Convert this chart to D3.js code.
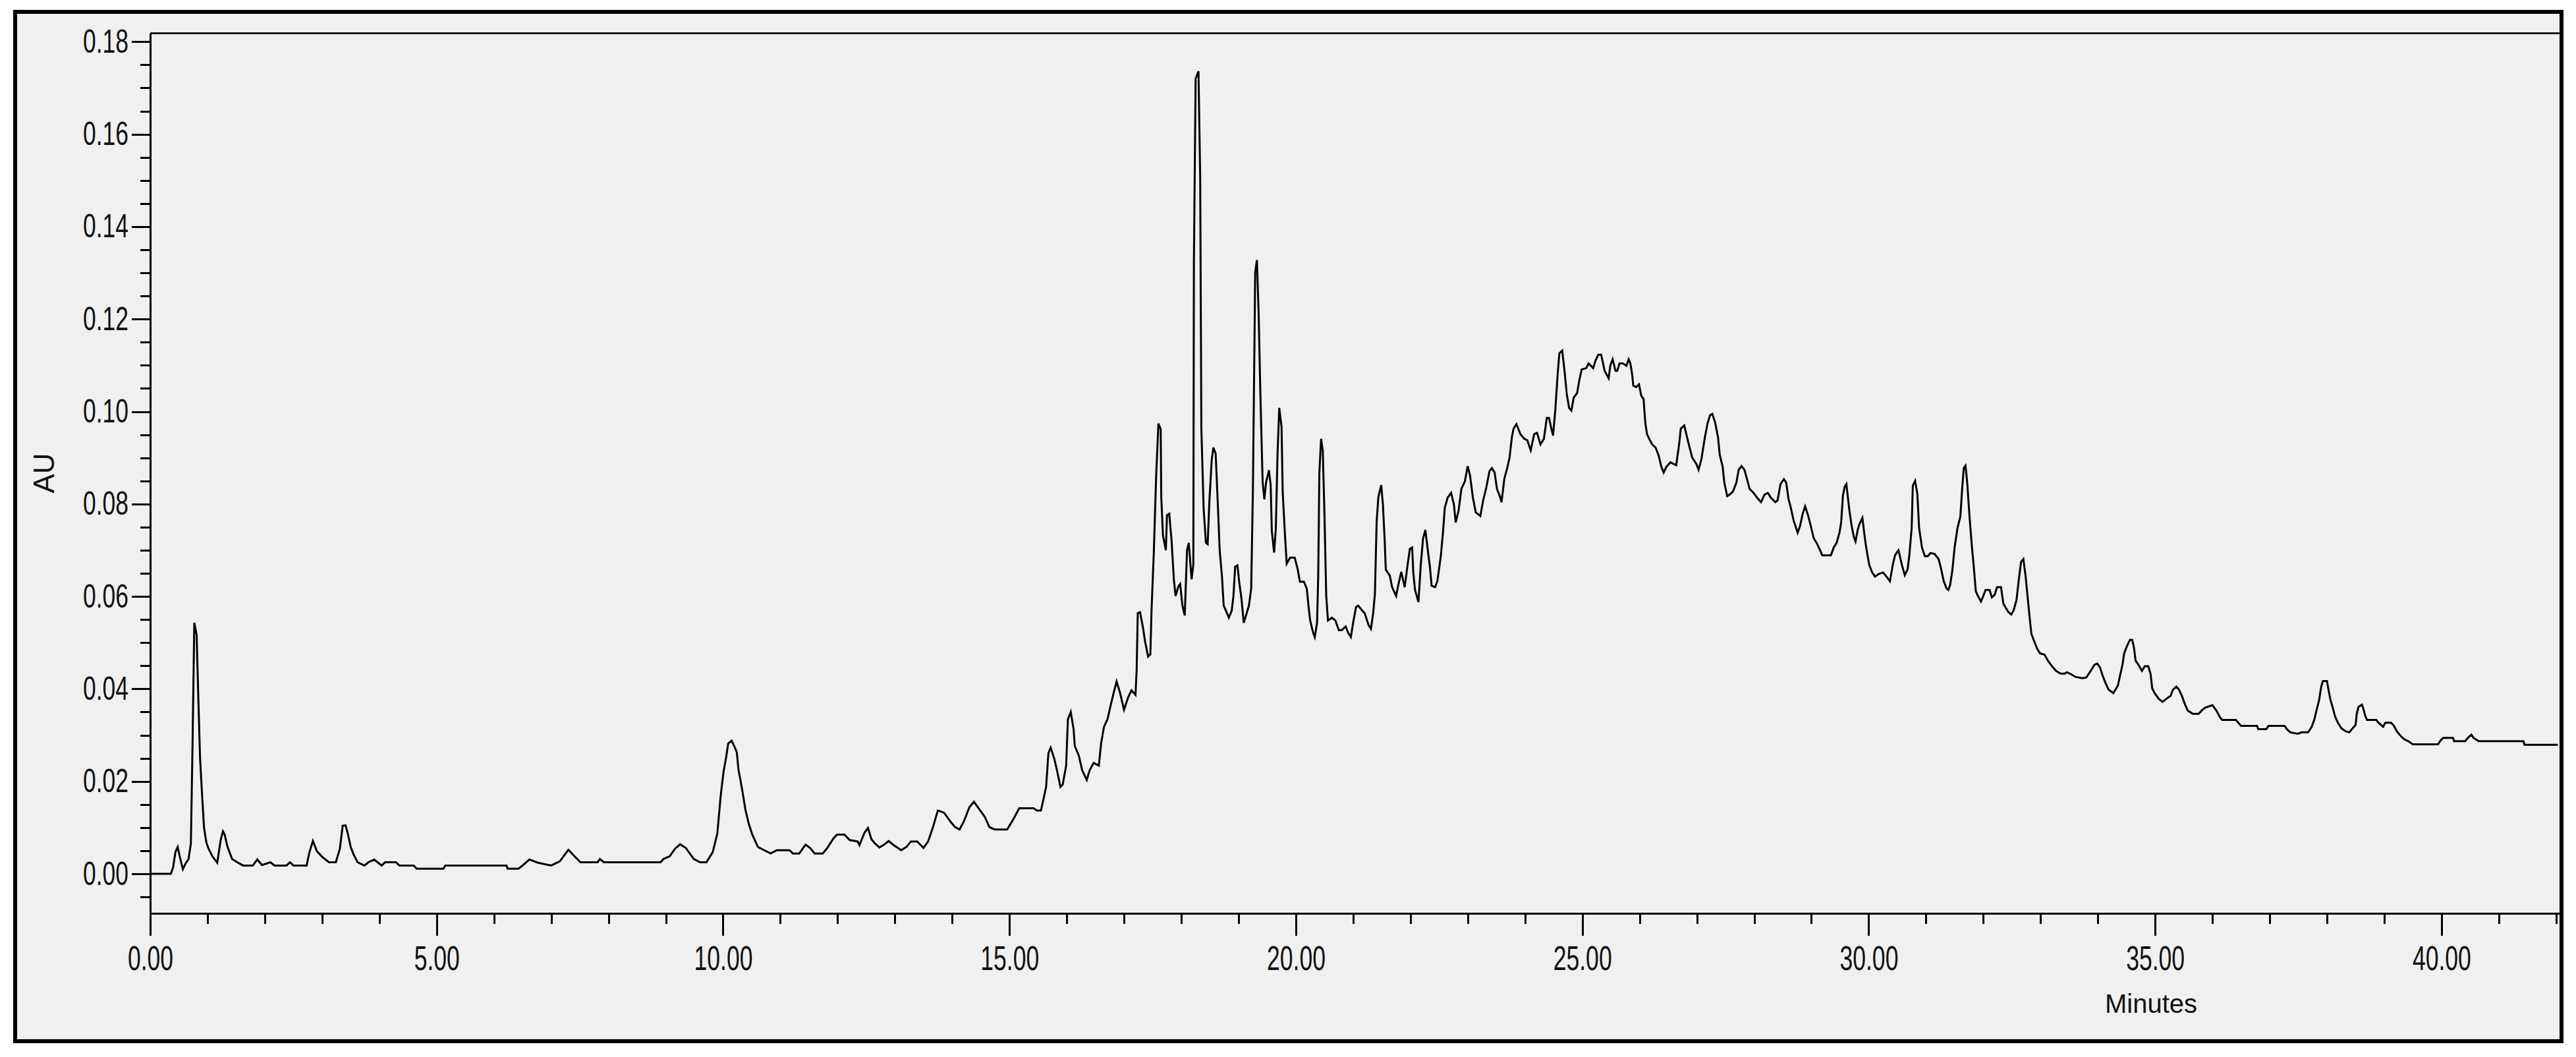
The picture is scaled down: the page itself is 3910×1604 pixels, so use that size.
<!DOCTYPE html>
<html>
<head>
<meta charset="utf-8">
<script src="https://cdn.jsdelivr.net/npm/d3@7"></script>
<style>
body { margin: 0; background: #fff; }
svg { display: block; }
</style>
</head>
<body>
<div id="chart"></div>
<script>
// retention time (min) and absorbance (AU)
var rtEarly = [0.00,0.36,0.40,0.44,0.48,0.52,0.57,0.62,0.67,0.71,0.74,0.77,0.81,0.84,0.87,0.905,0.94,0.98,1.02,1.09,1.17,1.23,1.27,1.30,1.35,1.43,1.52,1.62,1.79,1.87,1.95,2.10,2.17,2.38,2.44,2.50,2.73,2.78,2.84,2.91,3.00,3.12,3.24,3.31,3.36,3.41,3.45,3.50,3.55,3.62,3.74,3.81,3.91,4.04,4.10,4.29,4.35,4.60,4.65,5.12,5.15,6.22,6.24,6.43,6.50,6.62,6.77,7.00,7.15,7.30,7.40,7.51,7.81,7.85,7.92,8.91,8.96,9.07,9.16,9.25,9.35,9.49,9.60,9.71,9.82,9.90,9.96,10.01,10.05,10.09,10.15,10.20,10.24,10.27,10.31,10.35,10.39,10.45,10.51,10.61,10.72,10.83,10.94,11.16,11.22,11.33,11.44,11.52,11.60,11.74,11.82,11.93,11.99,12.12,12.21,12.35,12.38,12.47,12.53,12.59,12.65,12.73,12.81,12.89,12.98,13.11,13.20,13.28,13.39,13.50,13.58,13.66,13.75,13.86,13.97,14.05,14.13,14.21,14.30,14.38,14.46,14.57,14.65,14.74,14.96,15.01,15.09,15.17,15.42,15.48,15.55,15.60];
var auEarly = [0,0,0.0014,0.0047,0.0058,0.0035,0.0010,0.0023,0.0032,0.0066,0.0289,0.0543,0.0517,0.0380,0.0251,0.0172,0.0099,0.0068,0.0054,0.0037,0.0024,0.0073,0.0092,0.0085,0.0058,0.0032,0.0025,0.0018,0.0018,0.0031,0.0019,0.0025,0.0018,0.0018,0.0025,0.0018,0.0018,0.0047,0.0071,0.0049,0.0037,0.0025,0.0025,0.0054,0.0104,0.0105,0.0087,0.0058,0.0042,0.0025,0.0018,0.0025,0.0031,0.0018,0.0025,0.0025,0.0018,0.0018,0.0011,0.0011,0.0018,0.0018,0.0011,0.0011,0.0018,0.0031,0.0024,0.0018,0.0027,0.0052,0.0039,0.0025,0.0025,0.0032,0.0025,0.0025,0.0032,0.0038,0.0054,0.0064,0.0056,0.0032,0.0025,0.0025,0.0047,0.0087,0.0170,0.0222,0.0249,0.0282,0.0288,0.0275,0.0263,0.0225,0.0199,0.0170,0.0139,0.0108,0.0085,0.0058,0.0051,0.0044,0.0051,0.0051,0.0044,0.0044,0.0063,0.0056,0.0044,0.0044,0.0056,0.0077,0.0085,0.0085,0.0073,0.0070,0.0062,0.0089,0.0099,0.0075,0.0066,0.0057,0.0063,0.0071,0.0062,0.0051,0.0058,0.0070,0.0070,0.0056,0.0070,0.0099,0.0137,0.0132,0.0113,0.0101,0.0096,0.0115,0.0144,0.0156,0.0142,0.0123,0.0101,0.0096,0.0096,0.0106,0.0123,0.0142,0.0142,0.0137,0.0137,0.0165];

var rtMid = [15.64,15.68,15.72,15.78,15.83,15.89,15.93,15.99,16.02,16.07,16.12,16.14,16.21,16.27,16.35,16.40,16.47,16.56,16.60,16.65,16.71,16.77,16.82,16.87,16.93,17.00,17.07,17.13,17.20,17.22,17.24,17.28,17.33,17.37,17.42,17.46,17.48,17.52,17.56,17.60,17.64,17.65,17.68,17.73,17.75,17.79,17.83,17.87,17.90,17.95,17.98,18.02,18.06,18.10,18.13,18.18,18.21,18.22,18.25,18.30,18.33,18.35,18.39,18.43,18.46,18.49,18.53,18.56,18.60,18.64,18.67,18.71,18.74,18.78,18.83,18.88,18.91,18.94,18.98,19.01,19.05,19.09,19.13,19.18,19.22,19.25,19.29,19.32,19.35,19.38,19.42,19.45,19.48,19.53,19.56,19.58,19.62,19.65,19.68,19.71,19.75,19.77,19.81,19.84,19.90,19.98,20.03,20.07,20.14,20.19,20.22,20.25,20.30,20.33,20.37,20.39,20.41,20.44,20.47,20.50,20.53,20.56,20.63,20.69,20.75,20.80,20.87,20.91,20.96,21.00,21.05,21.09,21.16,21.20,21.27,21.31,21.35,21.38,21.41,21.44,21.49,21.52,21.55,21.57,21.64,21.68,21.75,21.79,21.84,21.90,21.95,21.99,22.03,22.05,22.08,22.14,22.18,22.22,22.26,22.30,22.34,22.37,22.43,22.47,22.53,22.57,22.60,22.65,22.71,22.76,22.79,22.84,22.89,22.95,23.00,23.04,23.09,23.14,23.22,23.27,23.32,23.38,23.42,23.47,23.51,23.56,23.59,23.64,23.69,23.73,23.77,23.80,23.85,23.92,23.99,24.04,24.10,24.16,24.21,24.27,24.33,24.38,24.42,24.46,24.49,24.53,24.57,24.60,24.65,24.69,24.73,24.77,24.81,24.85,24.91,24.95,24.99,25.07,25.11,25.19,25.23,25.28,25.33,25.39,25.42,25.46,25.49,25.53,25.58,25.61,25.65,25.71,25.77,25.81,25.84,25.87,25.89,25.94,25.99,26.03,26.07,26.10,26.13,26.18,26.22,26.28,26.33,26.38,26.42,26.47,26.54,26.64,26.69,26.72,26.78,26.83,26.88,26.92,26.99,27.03,27.08,27.14,27.19,27.23,27.27,27.32,27.37,27.40,27.45,27.48,27.53,27.57,27.63,27.69,27.73,27.78,27.83,27.88,27.92,27.99,28.05,28.12,28.18,28.24,28.29,28.37];
var auMid = [0.0188,0.0261,0.0273,0.0250,0.0224,0.0188,0.0193,0.0234,0.0334,0.0350,0.0313,0.0277,0.0256,0.0224,0.0203,0.0224,0.0240,0.0234,0.0282,0.0318,0.0334,0.0366,0.0392,0.0416,0.0392,0.0355,0.0381,0.0397,0.0387,0.0439,0.0564,0.0566,0.0533,0.0501,0.0470,0.0475,0.0569,0.0695,0.0857,0.0974,0.0962,0.0815,0.0732,0.0700,0.0776,0.0779,0.0721,0.0637,0.0601,0.0622,0.0627,0.0580,0.0559,0.0700,0.0716,0.0637,0.0669,0.1323,0.1720,0.1736,0.1505,0.0964,0.0789,0.0716,0.0713,0.0805,0.0894,0.0922,0.0909,0.0792,0.0700,0.0643,0.0580,0.0569,0.0554,0.0569,0.0601,0.0664,0.0667,0.0632,0.0596,0.0543,0.0559,0.0580,0.0617,0.0831,0.1301,0.1328,0.1213,0.1040,0.0847,0.0810,0.0847,0.0873,0.0841,0.0742,0.0695,0.0747,0.0909,0.1008,0.0967,0.0826,0.0732,0.0671,0.0684,0.0684,0.0660,0.0632,0.0632,0.0617,0.0580,0.0548,0.0522,0.0512,0.0543,0.0643,0.0867,0.0941,0.0915,0.0773,0.0601,0.0548,0.0554,0.0548,0.0527,0.0527,0.0535,0.0522,0.0512,0.0543,0.0577,0.0580,0.0569,0.0564,0.0538,0.0530,0.0564,0.0606,0.0761,0.0815,0.0841,0.0798,0.0722,0.0658,0.0645,0.0620,0.0601,0.0626,0.0653,0.0620,0.0668,0.0703,0.0706,0.0652,0.0614,0.0588,0.0668,0.0725,0.0744,0.0703,0.0664,0.0623,0.0620,0.0633,0.0687,0.0741,0.0792,0.0814,0.0824,0.0798,0.0760,0.0785,0.0833,0.0849,0.0882,0.0862,0.0814,0.0782,0.0774,0.0808,0.0833,0.0871,0.0878,0.0868,0.0833,0.0817,0.0804,0.0855,0.0878,0.0900,0.0944,0.0963,0.0973,0.0951,0.0941,0.0938,0.0916,0.0951,0.0954,0.0929,0.0941,0.0986,0.0986,0.0963,0.0948,0.1005,0.1081,0.1126,0.1132,0.1088,0.1037,0.1008,0.1002,0.1030,0.1040,0.1069,0.1091,0.1094,0.1104,0.1094,0.1110,0.1123,0.1123,0.1088,0.1081,0.1072,0.1100,0.1113,0.1088,0.1088,0.1104,0.1104,0.1099,0.1113,0.1104,0.1081,0.1056,0.1053,0.1059,0.1034,0.1027,0.0976,0.0951,0.0938,0.0929,0.0922,0.0906,0.0881,0.0868,0.0881,0.0890,0.0884,0.0929,0.0963,0.0970,0.0944,0.0919,0.0900,0.0887,0.0874,0.0897,0.0944,0.0976,0.0992,0.0995,0.0976,0.0944,0.0906,0.0881,0.0846,0.0817,0.0820,0.0827,0.0846,0.0874,0.0882,0.0874,0.0852,0.0833,0.0824,0.0814,0.0804,0.0820,0.0824,0.0814,0.0804];

var rtLate = [28.41,28.46,28.52,28.56,28.60,28.64,28.69,28.76,28.80,28.85,28.89,28.94,28.99,29.04,29.09,29.14,29.19,29.34,29.39,29.44,29.49,29.52,29.55,29.58,29.61,29.66,29.70,29.74,29.77,29.81,29.84,29.89,29.93,29.96,30.01,30.06,30.11,30.18,30.25,30.31,30.37,30.42,30.46,30.52,30.58,30.63,30.68,30.71,30.75,30.77,30.81,30.85,30.88,30.93,30.98,31.03,31.08,31.15,31.22,31.26,31.31,31.36,31.39,31.42,31.46,31.50,31.55,31.60,31.63,31.66,31.69,31.72,31.76,31.80,31.84,31.87,31.92,31.96,32.00,32.04,32.11,32.15,32.20,32.24,32.31,32.35,32.39,32.44,32.49,32.53,32.58,32.62,32.66,32.70,32.74,32.77,32.81,32.84,32.89,32.94,32.99,33.07,33.13,33.20,33.27,33.35,33.42,33.46,33.53,33.61,33.73,33.80,33.86,33.94,33.99,34.04,34.08,34.13,34.19,34.27,34.35,34.39,34.43,34.46,34.51,34.56,34.60,34.63,34.66,34.71,34.77,34.82,34.88,34.92,34.95,34.99,35.06,35.13,35.20,35.27,35.31,35.37,35.42,35.47,35.52,35.57,35.66,35.76,35.81,35.87,36.00,36.07,36.13,36.17,36.41,36.50,36.78,36.80,36.94,36.98,37.26,37.30,37.36,37.49,37.56,37.67,37.73,37.78,37.82,37.86,37.90,37.93,38.00,38.03,38.06,38.10,38.14,38.19,38.25,38.33,38.39,38.45,38.50,38.52,38.55,38.61,38.64,38.67,38.70,38.86,38.90,38.98,39.02,39.12,39.17,39.22,39.29,39.35,39.42,39.50,39.94,39.98,40.03,40.20,40.22,40.41,40.46,40.52,40.56,40.65,41.43,41.45,42.03];
var auLate = [0.0808,0.0843,0.0854,0.0846,0.0811,0.0792,0.0764,0.0738,0.0752,0.0780,0.0795,0.0776,0.0752,0.0726,0.0716,0.0703,0.0689,0.0689,0.0706,0.0716,0.0738,0.0761,0.0818,0.0837,0.0843,0.0789,0.0754,0.0729,0.0719,0.0745,0.0757,0.0770,0.0729,0.0703,0.0668,0.0652,0.0643,0.0649,0.0652,0.0643,0.0633,0.0668,0.0689,0.0700,0.0668,0.0646,0.0659,0.0690,0.0748,0.0840,0.0850,0.0821,0.0748,0.0706,0.0687,0.0687,0.0694,0.0692,0.0681,0.0662,0.0633,0.0617,0.0614,0.0624,0.0656,0.0706,0.0748,0.0773,0.0830,0.0878,0.0883,0.0846,0.0773,0.0710,0.0656,0.0611,0.0598,0.0589,0.0601,0.0614,0.0614,0.0598,0.0604,0.0620,0.0620,0.0585,0.0576,0.0566,0.0561,0.0570,0.0592,0.0636,0.0675,0.0681,0.0643,0.0604,0.0554,0.0519,0.0503,0.0487,0.0477,0.0474,0.0461,0.0449,0.0439,0.0433,0.0433,0.0436,0.0432,0.0426,0.0423,0.0425,0.0436,0.0452,0.0455,0.0446,0.0430,0.0414,0.0398,0.0391,0.0407,0.0430,0.0452,0.0477,0.0493,0.0506,0.0506,0.0490,0.0461,0.0452,0.0439,0.0449,0.0449,0.0433,0.0401,0.0391,0.0379,0.0372,0.0379,0.0385,0.0398,0.0405,0.0398,0.0384,0.0367,0.0353,0.0346,0.0346,0.0353,0.0359,0.0365,0.0353,0.0339,0.0333,0.0333,0.0320,0.0320,0.0313,0.0313,0.0320,0.0320,0.0313,0.0306,0.0303,0.0306,0.0306,0.0317,0.0334,0.0355,0.0374,0.0405,0.0417,0.0417,0.0396,0.0377,0.0360,0.0341,0.0327,0.0315,0.0308,0.0306,0.0315,0.0322,0.0346,0.0361,0.0366,0.0355,0.0341,0.0333,0.0333,0.0327,0.0318,0.0327,0.0327,0.0320,0.0308,0.0298,0.0291,0.0287,0.0280,0.0280,0.0288,0.0294,0.0294,0.0287,0.0287,0.0294,0.0301,0.0294,0.0287,0.0287,0.0279,0.0279];

var xMajorTicks = [0, 5, 10, 15, 20, 25, 30, 35, 40];
var yMajorTicks = [0, 0.02, 0.04, 0.06, 0.08, 0.10, 0.12, 0.14, 0.16, 0.18];
var xTitle = "Minutes";
var yTitle = "AU";

var W = 3910, H = 1604;
var plotL = 228, plotR = 3885, plotT = 50, plotB = 1386;

var x = d3.scaleLinear().domain([0, 42.06]).range([plotL, plotR]);
var y = d3.scaleLinear().domain([-0.00855, 0.1819]).range([plotB, plotT]);

var svg = d3.select("#chart").append("svg")
    .attr("width", W)
    .attr("height", H);

svg.append("rect").attr("width", W).attr("height", H).attr("fill", "#ffffff");

// outer frame
svg.append("rect")
    .attr("x", 23).attr("y", 18)
    .attr("width", 3865).attr("height", 1562)
    .attr("fill", "#f0f0f0")
    .attr("stroke", "#000")
    .attr("stroke-width", 6);

var labelFont = "'Liberation Sans', Arial, sans-serif";
function fitWidth(s) {
    // narrow instrument font: ~20px per digit, ~9px for the point
    return s.replace(".", "").length * 20 + 9;
}

// top border of the plot area
svg.append("line")
    .attr("x1", plotL).attr("x2", plotR)
    .attr("y1", plotT + 0.5).attr("y2", plotT + 0.5)
    .attr("stroke", "#1a1a1a").attr("stroke-width", 3);

// y axis
var yMinor = d3.range(-0.005, 0.1801, 0.005);
var yMinorAxis = d3.axisLeft(y).tickValues(yMinor).tickSize(15).tickSizeOuter(0).tickFormat("");
var yAxis = d3.axisLeft(y).tickValues(yMajorTicks).tickSize(28).tickSizeOuter(0)
    .tickPadding(5).tickFormat(d3.format(".2f"));

var gy1 = svg.append("g").attr("transform", "translate(" + plotL + ",0)").call(yMinorAxis);
var gy = svg.append("g").attr("transform", "translate(" + plotL + ",0)").call(yAxis);

// x axis
var xMinor = d3.range(0, 43, 1);
var xMinorAxis = d3.axisBottom(x).tickValues(xMinor).tickSize(16).tickSizeOuter(0).tickFormat("");
var xAxis = d3.axisBottom(x).tickValues(xMajorTicks).tickSize(34).tickSizeOuter(0)
    .tickFormat(d3.format(".2f"));

var gx1 = svg.append("g").attr("transform", "translate(0," + plotB + ")").call(xMinorAxis);
var gx = svg.append("g").attr("transform", "translate(0," + plotB + ")").call(xAxis);

[gy1, gy, gx1, gx].forEach(function (g) {
    g.selectAll("path.domain").attr("stroke", "#000").attr("stroke-width", 3);
    g.selectAll(".tick line").attr("stroke", "#000").attr("stroke-width", 3);
    g.style("shape-rendering", "crispEdges");
});

gy.selectAll(".tick text")
    .attr("fill", "#111")
    .attr("font-family", labelFont)
    .attr("font-size", 50)
    .attr("dy", "0.32em")
    .attr("textLength", function (d) { return fitWidth(d3.format(".2f")(d)); })
    .attr("lengthAdjust", "spacingAndGlyphs");

gx.selectAll(".tick text")
    .attr("fill", "#111")
    .attr("font-family", labelFont)
    .attr("font-size", 51)
    .attr("y", 86)
    .attr("dy", null)
    .attr("textLength", function (d) { return fitWidth(d3.format(".2f")(d)); })
    .attr("lengthAdjust", "spacingAndGlyphs");

// axis titles
svg.append("text")
    .attr("x", 3265).attr("y", 1537)
    .attr("text-anchor", "middle")
    .attr("font-family", labelFont)
    .attr("font-size", 40)
    .attr("fill", "#111")
    .text(xTitle);

svg.append("text")
    .attr("transform", "translate(82,718) rotate(-90)")
    .attr("text-anchor", "middle")
    .attr("font-family", labelFont)
    .attr("font-size", 44)
    .attr("fill", "#111")
    .text(yTitle);

// chromatogram trace
var trace = [];
[[rtEarly, auEarly], [rtMid, auMid], [rtLate, auLate]].forEach(function (s) {
    s[0].forEach(function (t, i) { trace.push([t, s[1][i]]); });
});

var line = d3.line()
    .x(function (d) { return x(d[0]); })
    .y(function (d) { return y(d[1]); });

svg.append("path")
    .datum(trace)
    .attr("d", line)
    .attr("fill", "none")
    .attr("stroke", "#000")
    .attr("stroke-width", 3)
    .attr("stroke-linejoin", "miter");
</script>
</body>
</html>
